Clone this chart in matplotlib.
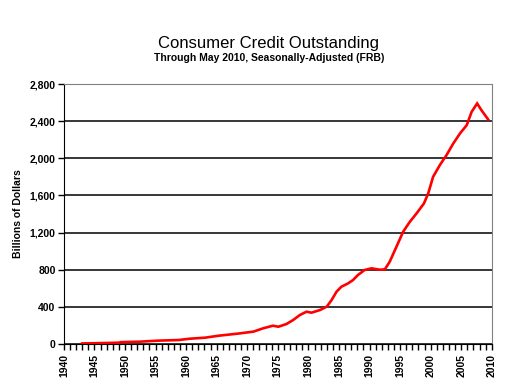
import matplotlib
matplotlib.use('Agg')
from matplotlib import pyplot as plt
from matplotlib.ticker import MultipleLocator, FuncFormatter

plt.rcParams['font.family'] = ['Liberation Sans', 'DejaVu Sans']

# values (year position, billions of dollars)
years = [1943.0, 1945.0, 1949.0, 1949.3, 1952.4, 1955.4, 1958.8, 1960.6, 1963.1,
         1965.3, 1968.5, 1971.0, 1972.6, 1974.2, 1975.1, 1976.4, 1977.5, 1978.6,
         1979.7, 1980.5, 1981.9, 1983.0, 1983.8, 1984.6, 1985.4, 1986.5, 1987.3,
         1988.1, 1989.2, 1990.3, 1991.7, 1992.5, 1993.3, 1994.4, 1995.5, 1996.6,
         1997.7, 1998.9, 1999.6, 2000.4, 2001.5, 2002.6, 2003.7, 2004.8, 2005.9,
         2006.7, 2007.6, 2008.3, 2009.4]
credit = [6, 8, 14, 20, 25, 36, 43, 57, 68,
          89, 112, 133, 169, 197, 186, 215, 258, 312,
          348, 337, 366, 402, 474, 563, 617, 653, 689,
          743, 797, 815, 800, 804, 886, 1047, 1209, 1317,
          1407, 1514, 1622, 1801, 1927, 2035, 2160, 2268, 2357,
          2500, 2591, 2519, 2419]

fig = plt.figure(figsize=(5.07, 3.82), dpi=100)
ax = fig.add_axes([0.126, 0.0995, 0.844, 0.6805])

ax.plot(years, credit, color='#ff0000', linewidth=1.9, solid_joinstyle='miter', zorder=3)

ax.set_xlim(1940, 2010)
ax.set_ylim(0, 2800)
ax.yaxis.set_major_locator(MultipleLocator(400))
ax.yaxis.set_major_formatter(FuncFormatter(lambda v, p: f'{int(v):,}'))
ax.xaxis.set_major_locator(MultipleLocator(5))
ax.xaxis.set_minor_locator(MultipleLocator(1))
ax.grid(axis='y', color='black', linewidth=1.1)

for s in ['top', 'right']:
    ax.spines[s].set_color('#808080')
for s in ['left', 'bottom']:
    ax.spines[s].set_color('black')

ax.tick_params(axis='y', length=4, width=1, labelsize=7.5, pad=2)
ax.tick_params(axis='x', which='both', length=4, width=1, labelsize=7.5, pad=3, labelrotation=90)
for lab in ax.get_xticklabels() + ax.get_yticklabels():
    lab.set_fontweight('bold')

ax.set_ylabel('Billions of Dollars', fontsize=7.5, fontweight='bold', labelpad=5)

fig.text(0.53, 0.887, 'Consumer Credit Outstanding', ha='center', va='center', fontsize=12)
fig.text(0.53, 0.849, 'Through May 2010, Seasonally-Adjusted (FRB)', ha='center', va='center',
         fontsize=7.5, fontweight='bold')

fig.savefig('out.png', dpi=100)
